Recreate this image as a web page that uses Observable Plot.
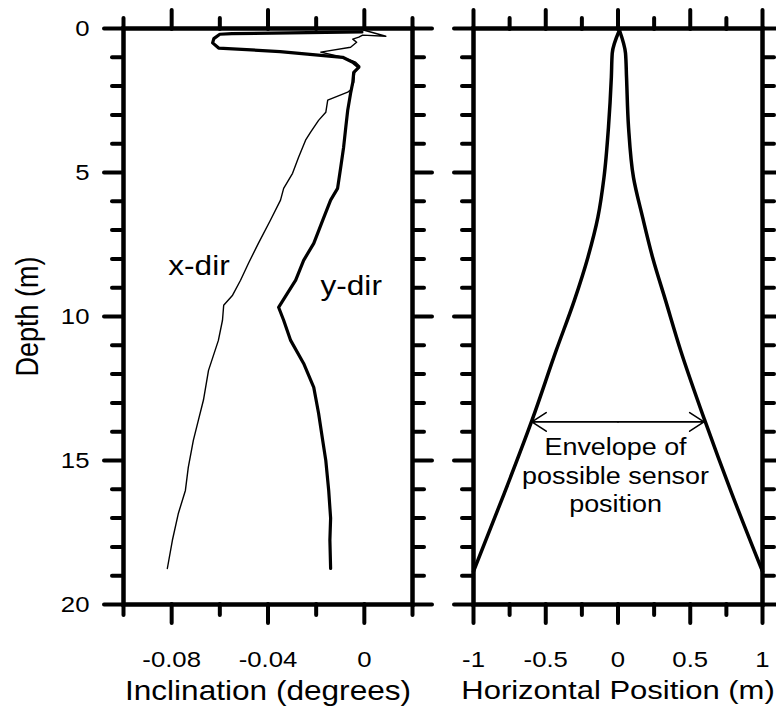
<!DOCTYPE html>
<html><head><meta charset="utf-8">
<script src="https://cdn.jsdelivr.net/npm/d3@7"></script>
<script src="https://cdn.jsdelivr.net/npm/@observablehq/plot@0.6"></script>
<style>
body{margin:0;background:#fff;}
#wrap{position:relative;width:776px;height:711px;overflow:hidden;background:#fff;}
#wrap svg{position:absolute;top:0;overflow:visible;}
</style></head><body><div id="wrap"></div>
<script>
// ---- data ----
const xDirDepth = [0.06,0.27,0.23,0.30,0.37,0.48,0.65,0.82,1.0,1.17,1.31,1.52,1.87,2.14,2.21,2.49,2.91,3.19,3.6,3.88,4.47,5.03,5.55,5.96,6.66,7.46,8.15,8.74,9.26,9.61,10.13,10.83,11.87,12.9,13.6,14.3,15.24,16.04,16.83,17.77,18.75];
const xDirIncl  = [0,0.0089,-0.0007,-0.0023,-0.0048,-0.0032,-0.0057,-0.0181,-0.009,-0.0036,-0.0019,-0.004,-0.0044,-0.0057,-0.0069,-0.0152,-0.016,-0.019,-0.0223,-0.0244,-0.0273,-0.0298,-0.0335,-0.0348,-0.039,-0.044,-0.0481,-0.0514,-0.0547,-0.0584,-0.0589,-0.0606,-0.0647,-0.0668,-0.0689,-0.071,-0.0731,-0.0743,-0.0772,-0.0797,-0.0818];

const yDirDepth = [0.12,0.18,0.2,0.35,0.5,0.68,0.8,1.0,1.17,1.35,1.52,1.87,2.25,2.84,3.43,4.12,4.82,5.55,5.96,6.66,7.46,8.05,8.74,9.19,9.68,10.13,10.83,11.63,12.46,13.36,14.3,15.0,16.04,17.0,17.77,18.75];
const yDirIncl  = [-0.001,-0.055,-0.06,-0.0625,-0.063,-0.0605,-0.035,-0.009,-0.0048,-0.0023,-0.0044,-0.0048,-0.0057,-0.0069,-0.0077,-0.0086,-0.0098,-0.0111,-0.014,-0.0173,-0.021,-0.0252,-0.0285,-0.0319,-0.0356,-0.0335,-0.0306,-0.0252,-0.021,-0.019,-0.0173,-0.016,-0.0148,-0.014,-0.0143,-0.014];

const envDepth = [0.06,0.86,1.69,3.43,5.17,6.55,7.94,9.44,11.17,13.6,16.14,18.85];
const envLeft  = [0.01,-0.040,-0.046,-0.066,-0.097,-0.139,-0.208,-0.302,-0.427,-0.595,-0.787,-1.0];
const envRight = [0.01,0.052,0.059,0.073,0.107,0.170,0.239,0.329,0.433,0.600,0.787,1.0];

const inclMajor = [-0.08,-0.04,0];
const inclMinor = [-0.1,-0.06,-0.02,0.02];
const posMajor = [-1,-0.5,0,0.5,1];
const posMinor = [-0.75,-0.25,0.25,0.75];
const depthMajor = [0,5,10,15,20];
const depthMinor = [1,2,3,4,6,7,8,9,11,12,13,14,16,17,18,19];

const yTitle = "Depth (m)";
const xTitleLeft = "Inclination (degrees)";
const xTitleRight = "Horizontal Position (m)";
const seriesLabels = [{x:-0.0814, y:8.27, t:"x-dir"},{x:-0.0182, y:8.96, t:"y-dir"}];
const envNote = [{x:-0.017, y:14.1, t:"Envelope of\npossible sensor\nposition"}];
const envArrow = [{x1:0, x2:-0.596, y:13.66},{x1:0, x2:0.595, y:13.66}];

// ---- build ----
const FONT = "'Liberation Sans', Arial, Helvetica, sans-serif";
const STRETCH = 1.17;
const xDir = xDirDepth.map((d,i)=>({depth:d, v:xDirIncl[i]}));
const yDir = yDirDepth.map((d,i)=>({depth:d, v:yDirIncl[i]}));
const env = [
  ...envDepth.map((d,i)=>({depth:d, v:envLeft[i], side:"L"})),
  ...envDepth.map((d,i)=>({depth:d, v:envRight[i], side:"R"}))
];

function frameTicks(xMaj, xMin, labelX, labelY) {
  const c = {strokeWidth: 4, strokeLinecap: "round", label: null, fontSize: 22, tickFormat: d => String(d)};
  return [
    Plot.axisX(xMaj, {...c, anchor:"bottom", tickSize:19, tickPadding:28, fill: labelX ? "black" : "none"}),
    Plot.axisX(xMin, {...c, anchor:"bottom", tickSize:11, fill:"none"}),
    Plot.axisX(xMaj, {...c, anchor:"top", tickSize:19, fill:"none"}),
    Plot.axisX(xMin, {...c, anchor:"top", tickSize:11, fill:"none"}),
    Plot.axisY(depthMajor, {...c, anchor:"left", tickSize:19, tickPadding:15, fill: labelY ? "black" : "none"}),
    Plot.axisY(depthMinor, {...c, anchor:"left", tickSize:11, fill:"none"}),
    Plot.axisY(depthMajor, {...c, anchor:"right", tickSize:19, fill:"none"}),
    Plot.axisY(depthMinor, {...c, anchor:"right", tickSize:11, fill:"none"})
  ];
}

const style = {fontFamily: FONT, color: "black", background: "transparent", overflow: "visible"};

const left = Plot.plot({
  width: 440, height: 711,
  marginLeft: 123, marginRight: 28, marginTop: 28, marginBottom: 107,
  x: {domain: [-0.1, 0.02]},
  y: {domain: [0, 20], reverse: true},
  style,
  marks: [
    Plot.line(xDir, {x:"v", y:"depth", stroke:"black", strokeWidth:1.4, strokeLinejoin:"round"}),
    Plot.line(yDir, {x:"v", y:"depth", stroke:"black", strokeWidth:3.2, strokeLinejoin:"round"}),
    Plot.text(seriesLabels, {x:"x", y:"y", text:"t", textAnchor:"start", fontSize:27, fill:"black"}),
    ...frameTicks(inclMajor, inclMinor, true, true),
    Plot.frame({stroke:"black", strokeWidth:4.5}),
    Plot.text([xTitleLeft], {text:d=>d, frameAnchor:"bottom", dy:76, lineAnchor:"top", fontSize:27, fill:"black"}),
    Plot.text([yTitle], {text:d=>d, frameAnchor:"left", textAnchor:"middle", dx:-96, rotate:-90, fontSize:27, fill:"black"})
  ]
});

const right = Plot.plot({
  width: 336, height: 711,
  marginLeft: 33, marginRight: 14, marginTop: 28, marginBottom: 107,
  x: {domain: [-1, 1]},
  y: {domain: [0, 20], reverse: true},
  style,
  marks: [
    Plot.line(env, {x:"v", y:"depth", z:"side", curve:"monotone-y", stroke:"black", strokeWidth:3.5, strokeLinejoin:"round"}),
    Plot.arrow(envArrow, {x1:"x1", x2:"x2", y1:"y", y2:"y", stroke:"black", strokeWidth:1.6, headLength:16, headAngle:66}),
    Plot.text(envNote, {x:"x", y:"y", text:"t", lineAnchor:"top", lineHeight:1.25, fontSize:23, fill:"black"}),
    ...frameTicks(posMajor, posMinor, true, false),
    Plot.frame({stroke:"black", strokeWidth:4.5}),
    Plot.text([xTitleRight], {text:d=>d, frameAnchor:"bottom", dy:76, lineAnchor:"top", fontSize:26.5, fill:"black"})
  ]
});

function stretch(svg) {
  svg.querySelectorAll("text").forEach(t => {
    const x = +t.getAttribute("x") || 0, y = +t.getAttribute("y") || 0;
    const rot = t.textContent === yTitle;
    const sc = rot ? `scale(1,${STRETCH})` : `scale(${STRETCH},1)`;
    const tr = t.getAttribute("transform") || "";
    t.setAttribute("transform", `${tr} translate(${x},${y}) ${sc} translate(${-x},${-y})`);
  });
}
stretch(left); stretch(right);
left.style.left = "0px";
right.style.left = "440px";
const wrap = document.getElementById("wrap");
wrap.appendChild(left);
wrap.appendChild(right);
</script>
</body></html>
